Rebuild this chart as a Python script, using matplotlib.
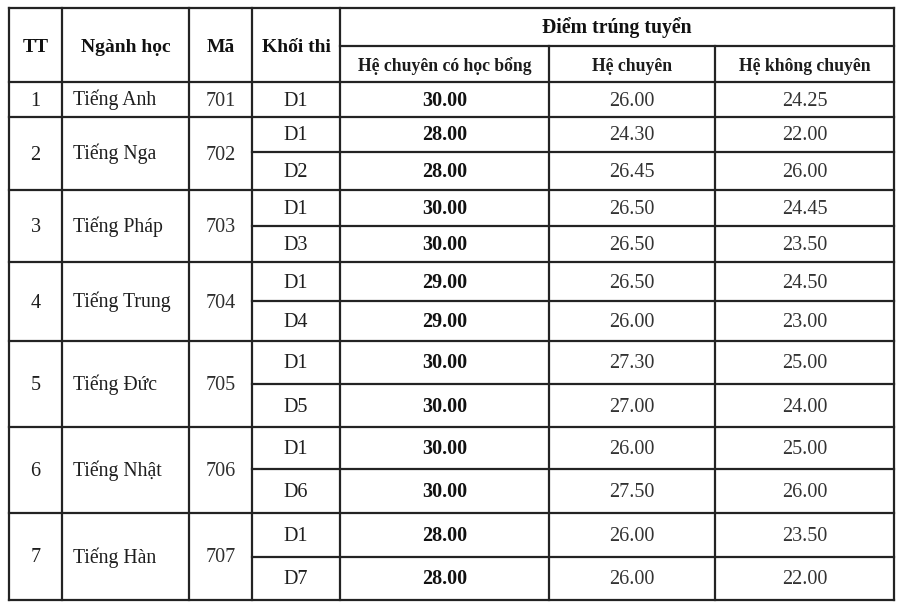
import matplotlib.pyplot as plt

plt.rcParams['font.family'] = ['Liberation Serif', 'DejaVu Serif']

# data
tt = ['1', '2', '3', '4', '5', '6', '7']
nganh = ['Tiếng Anh', 'Tiếng Nga', 'Tiếng Pháp', 'Tiếng Trung', 'Tiếng Đức', 'Tiếng Nhật', 'Tiếng Hàn']
ma = ['701', '702', '703', '704', '705', '706', '707']
khoi = [['D1'], ['D1', 'D2'], ['D1', 'D3'], ['D1', 'D4'], ['D1', 'D5'], ['D1', 'D6'], ['D1', 'D7']]
hoc_bong = [[30.00], [28.00, 28.00], [30.00, 30.00], [29.00, 29.00], [30.00, 30.00], [30.00, 30.00], [28.00, 28.00]]
he_chuyen = [[26.00], [24.30, 26.45], [26.50, 26.50], [26.50, 26.00], [27.30, 27.00], [26.00, 27.50], [26.00, 26.00]]
khong_chuyen = [[24.25], [22.00, 26.00], [24.45, 23.50], [24.50, 23.00], [25.00, 24.00], [25.00, 26.00], [23.50, 22.00]]

headers = ['TT', 'Ngành học', 'Mã', 'Khối thi']
group_header = 'Điểm trúng tuyển'
sub_headers = ['Hệ chuyên có học bổng', 'Hệ chuyên', 'Hệ không chuyên']

# layout (pixels)
col_x = [9, 62, 189, 252, 340, 549, 715, 894]
top, mid, head_bot = 8, 46, 82
row_y = [82, 117, 152, 190, 226, 262, 301, 341, 384, 427, 469, 513, 557, 600]

fig = plt.figure(figsize=(9, 6.06), dpi=100)
ax = fig.add_axes([0, 0, 1, 1])
ax.set_xlim(0, 900)
ax.set_ylim(606, 0)
ax.axis('off')

lc = '#232323'
lw = 1.6
body_fs = 14.5

# frame and vertical lines
for i, x in enumerate(col_x):
    y_start = mid if i in (5, 6) else top
    ax.plot([x, x], [y_start, row_y[-1]], color=lc, lw=lw, solid_capstyle='projecting')
ax.plot([col_x[0], col_x[-1]], [top, top], color=lc, lw=lw)
ax.plot([col_x[0], col_x[-1]], [head_bot, head_bot], color=lc, lw=lw)
ax.plot([col_x[4], col_x[-1]], [mid, mid], color=lc, lw=lw)

def cx(i):
    return (col_x[i] + col_x[i + 1]) / 2

# headers
for i, h in enumerate(headers):
    ax.text(cx(i), (top + head_bot) / 2 + 7, h, ha='center', va='baseline',
            fontsize=14, fontweight='bold', color='#111111')
ax.text((col_x[4] + col_x[-1]) / 2, (top + mid) / 2 + 6, group_header, ha='center',
        va='baseline', fontsize=14.2, fontweight='bold', color='#111111')
for j, h in enumerate(sub_headers):
    ax.text(cx(4 + j), (mid + head_bot) / 2 + 7, h, ha='center', va='baseline',
            fontsize=12.7, fontweight='bold', color='#1c1c1c')

# body
r = 0
for g in range(len(tt)):
    n = len(khoi[g])
    y0, y1 = row_y[r], row_y[r + n]
    ax.plot([col_x[0], col_x[-1]], [y1, y1], color=lc, lw=lw)
    yc = (y0 + y1) / 2 + 6
    ax.text(cx(0), yc, tt[g], ha='center', va='baseline', fontsize=body_fs, color='#1e1e1e')
    ax.text(col_x[1] + 11, yc, nganh[g], ha='left', va='baseline', fontsize=14.2, color='#1e1e1e')
    ax.text(cx(2), yc, ma[g], ha='center', va='baseline', fontsize=body_fs, color='#2e2e2e')
    for k in range(n):
        a, b = row_y[r + k], row_y[r + k + 1]
        if k < n - 1:
            ax.plot([col_x[3], col_x[-1]], [b, b], color=lc, lw=lw)
        yy = (a + b) / 2 + 6
        ax.text(cx(3), yy, khoi[g][k], ha='center', va='baseline', fontsize=body_fs, color='#1e1e1e')
        ax.text(cx(4), yy, f'{hoc_bong[g][k]:.2f}', ha='center', va='baseline',
                fontsize=body_fs, fontweight='bold', color='#111111')
        ax.text(cx(5), yy, f'{he_chuyen[g][k]:.2f}', ha='center', va='baseline',
                fontsize=body_fs, color='#333333')
        ax.text(cx(6), yy, f'{khong_chuyen[g][k]:.2f}', ha='center', va='baseline',
                fontsize=body_fs, color='#333333')
    r += n

fig.savefig('out.png', dpi=100, facecolor='white')
